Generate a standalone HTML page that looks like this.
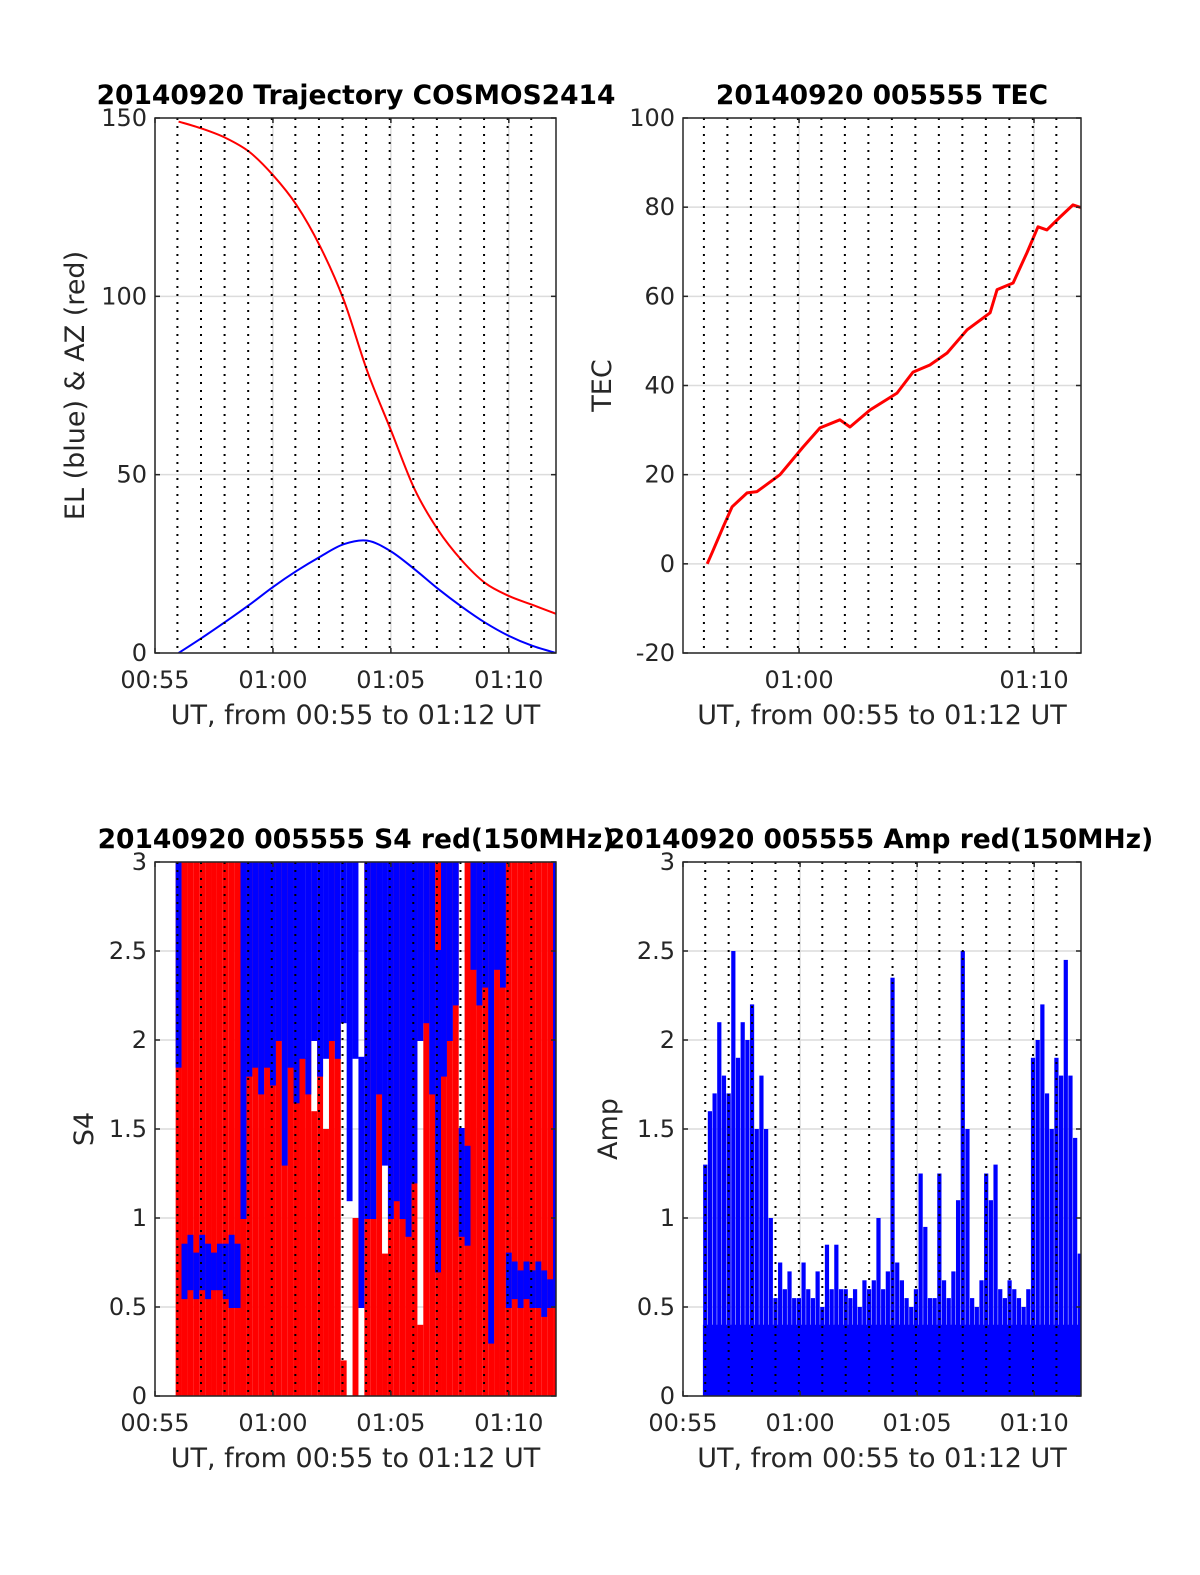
<!DOCTYPE html>
<html><head><meta charset="utf-8"><style>
html,body{margin:0;padding:0;background:#fff;}
svg{display:block;font-family:"DejaVu Sans","Liberation Sans",sans-serif;}
</style></head><body>
<svg id="fig" width="1200" height="1575" viewBox="0 0 1200 1575" xmlns="http://www.w3.org/2000/svg"></svg>
<script>
// ---- data (minutes after 00:55 UT) ----
const xTickLabels = ["00:55","01:00","01:05","01:10"];
const xTickMinutes = [0,5,10,15];
const traj_t = [1,2,3,4,5,6,7,8,9,10,11,12,13,14,15,16,17];
const az_vals = [149,147,144.4,140.5,134,125.6,114,99,79,62.5,46,34.5,26,19.6,16,13.5,11];
const el_vals = [0,4.3,8.8,13.5,18.5,23,27,30.5,31.5,28.5,23.5,18,13,8.5,4.8,2,0];
const tec_t = [1.09,1.30,1.77,2.15,2.79,3.21,4.19,5.17,5.89,6.74,7.17,8.02,9.17,9.85,10.57,11.30,12.15,13.13,13.43,14.11,14.70,15.17,15.55,16.11,16.66,17.0];
const tec_vals = [0,2.5,8.3,12.8,15.9,16.2,20,26.2,30.5,32.3,30.7,34.5,38.3,43,44.6,47.3,52.5,56.3,61.5,63,69.8,75.6,74.9,77.8,80.5,79.9];
const s4_t0 = 1.0, s4_dt = 0.25;
const s4_red = [3,3,3,3,3,3,3,3,3,3,3,3,3,3,3,3,3,3,3,3,
 3,1.9,3,1.6,3,1.5,3,2.2,0.2,0,1.0,0,3,3,3,0.8,3,3,3,3,3,0.4,3,3,3,3,3,3,1.5,3,
 3,3,3,3,3,3,3,3,3,3,3,3,3,3,3];
const s4_blue_lo = [1.85,0.55,0.6,0.55,0.6,0.55,0.6,0.6,0.55,0.5,0.5,1.0,1.8,1.85,1.7,1.85,1.75,2.0,1.3,1.85,1.65,1.9,1.7,2.0,1.8,1.9,2.0,1.9,2.1,1.1,1.9,0.5,1.0,1.0,1.7,1.3,1.0,1.1,1.0,0.9,1.2,2.0,2.1,1.7,0.7,1.8,2.0,2.2,0.9,0.85,2.4,2.2,2.3,0.3,2.4,2.3,0.5,0.55,0.5,0.55,0.5,0.5,0.45,0.5,0.5];
const s4_blue_hi = [3,0.85,0.9,0.8,0.9,0.85,0.8,0.85,0.85,0.9,0.85,3,3,3,3,3,3,3,3,3,3,3,3,3,3,3,3,3,3,3,3,1.9,3,3,3,3,3,3,3,3,3,3,3,3,2.5,3,3,3,1.5,1.4,3,3,3,3,3,3,0.8,0.75,0.7,0.75,0.7,0.75,0.7,0.65,3];
const amp_t0 = 0.95, amp_dt = 0.2;
const amp_vals = [1.3,1.6,1.7,2.1,1.8,1.7,2.5,1.9,2.1,2.0,2.2,1.5,1.8,1.5,1.0,0.55,0.75,0.6,0.7,0.55,0.55,0.75,0.6,0.55,0.7,0.5,0.85,0.6,0.85,0.6,0.6,0.55,0.6,0.5,0.65,0.6,0.65,1.0,0.6,0.7,2.35,0.75,0.65,0.55,0.5,0.6,1.25,0.95,0.55,0.55,1.25,0.65,0.55,0.7,1.1,2.5,1.5,0.55,0.5,0.65,1.25,1.1,1.3,0.6,0.55,0.65,0.6,0.55,0.5,0.6,1.9,2.0,2.2,1.7,1.5,1.9,1.8,2.45,1.8,1.45,0.8];

const NS="http://www.w3.org/2000/svg";
const svg=document.getElementById('fig');
function mk(tag,attrs,parent){const e=document.createElementNS(NS,tag);for(const k in attrs)e.setAttribute(k,attrs[k]);(parent||svg).appendChild(e);return e;}
function txt(s,attrs,parent){const e=mk('text',attrs,parent);e.textContent=s;return e;}

function panel(o){
  const g=mk('g',{});
  
  
  const X=t=>o.x0+(t-o.t0)/(o.t1-o.t0)*(o.x1-o.x0);
  const Y=v=>o.y1-(v-o.v0)/(o.v1-o.v0)*(o.y1-o.y0);
  o.yticks.forEach(v=>{const l=mk('line',{x1:o.x0,x2:o.x1,y1:Y(v),y2:Y(v),stroke:'#dcdcdc','stroke-width':1.5},g);
    });
  o.xticks.forEach(t=>{const l=mk('line',{x1:X(t),x2:X(t),y1:o.y0,y2:o.y1,stroke:'#dcdcdc','stroke-width':1.5},g);
    });
  const clipId='c'+o.name;
  const cp=mk('clipPath',{id:clipId},g);mk('rect',{x:o.x0,y:o.y0,width:o.x1-o.x0,height:o.y1-o.y0},cp);
  const dg=mk('g',{'clip-path':'url(#'+clipId+')'},g);
  o.draw(dg,X,Y);
  for(let k=0;k<16;k++){const t=0.95+k;const l=mk('line',{x1:X(t),x2:X(t),y1:o.y0,y2:o.y1,stroke:'#000','stroke-width':2,'stroke-dasharray':'2,6'},g);
    }
  const b=mk('rect',{x:o.x0,y:o.y0,width:o.x1-o.x0,height:o.y1-o.y0,fill:'none',stroke:'#262626','stroke-width':1.5},g);
  
  o.yticks.forEach((v,i)=>{mk('line',{x1:o.x0,x2:o.x0+5,y1:Y(v),y2:Y(v),stroke:'#262626','stroke-width':1.5},g);
    mk('line',{x1:o.x1,x2:o.x1-5,y1:Y(v),y2:Y(v),stroke:'#262626','stroke-width':1.5},g);
    const tl=txt(o.ylabels[i],{x:o.x0-8,y:Y(v)+8,'text-anchor':'end','font-size':24,fill:'#262626'},g);
    });
  o.xticks.forEach((t,i)=>{mk('line',{x1:X(t),x2:X(t),y1:o.y1,y2:o.y1-5,stroke:'#262626','stroke-width':1.5},g);
    mk('line',{x1:X(t),x2:X(t),y1:o.y0,y2:o.y0+5,stroke:'#262626','stroke-width':1.5},g);
    const tl=txt(o.xlabels[i],{x:X(t),y:o.y1+35,'text-anchor':'middle','font-size':24,fill:'#262626'},g);
    });
  const cx=(o.x0+o.x1)/2;
  const ti=txt(o.title,{x:o.tx||cx,y:o.y0-14,'text-anchor':'middle','font-size':26.5,'font-weight':'bold',fill:'#000'},g);
  
  const xl=txt('UT, from 00:55 to 01:12 UT',{x:cx,y:o.y1+71,'text-anchor':'middle','font-size':27,fill:'#262626'},g);
  
  const cy=(o.y0+o.y1)/2;
  const yl=txt(o.ylabel,{x:o.ylx,y:cy,'text-anchor':'middle','font-size':27,fill:'#262626',transform:'rotate(-90 '+o.ylx+' '+cy+')'},g);
  
}
function line(g,xs,ys,X,Y,color,name){
  const d=xs.map((t,i)=>(i?'L':'M')+X(t).toFixed(1)+','+Y(ys[i]).toFixed(1)).join('');
  const p=mk('path',{d:d,fill:'none',stroke:color,'stroke-width':3,'stroke-linejoin':'round'},g);
  
}
function smooth(g,xs,ys,X,Y,color,name){
  const P=xs.map((t,i)=>[X(t),Y(ys[i])]);
  let d='M'+P[0][0]+','+P[0][1];
  for(let i=0;i<P.length-1;i++){const p0=P[Math.max(i-1,0)],p1=P[i],p2=P[i+1],p3=P[Math.min(i+2,P.length-1)];
    d+='C'+(p1[0]+(p2[0]-p0[0])/6)+','+(p1[1]+(p2[1]-p0[1])/6)+' '+(p2[0]-(p3[0]-p1[0])/6)+','+(p2[1]-(p3[1]-p1[1])/6)+' '+p2[0]+','+p2[1];}
  const p=mk('path',{d:d,fill:'none',stroke:color,'stroke-width':2},g);
  
}
panel({name:'trajectory-panel',x0:155,x1:556,y0:118,y1:653,t0:0,t1:17,v0:0,v1:150,
  xticks:xTickMinutes,xlabels:xTickLabels,yticks:[0,50,100,150],ylabels:['0','50','100','150'],
  title:'20140920 Trajectory COSMOS2414',tx:356,ylabel:'EL (blue) & AZ (red)',ylx:84,
  draw:(g,X,Y)=>{smooth(g,traj_t,az_vals,X,Y,'#ff0000','az-line');smooth(g,traj_t,el_vals,X,Y,'#0000ff','el-line');}});
panel({name:'tec-panel',x0:683,x1:1081,y0:118,y1:653,t0:0.06,t1:17,v0:-20,v1:100,
  xticks:[5,15],xlabels:['01:00','01:10'],yticks:[-20,0,20,40,60,80,100],ylabels:['-20','0','20','40','60','80','100'],
  title:'20140920 005555 TEC',ylabel:'TEC',ylx:611,
  draw:(g,X,Y)=>{line(g,tec_t,tec_vals,X,Y,'#ff0000','tec-line');}});
panel({name:'s4-panel',x0:155,x1:556,y0:862,y1:1396,t0:0,t1:17,v0:0,v1:3,
  xticks:xTickMinutes,xlabels:xTickLabels,yticks:[0,0.5,1,1.5,2,2.5,3],ylabels:['0','0.5','1','1.5','2','2.5','3'],
  title:'20140920 005555 S4 red(150MHz)',tx:356,ylabel:'S4',ylx:93,
  draw:(g,X,Y)=>{
    const w=X(s4_dt)-X(0);
    s4_red.forEach((v,i)=>{const t=s4_t0+i*s4_dt;const r=mk('rect',{x:X(t)-w/2,y:Y(v),width:w,height:Y(0)-Y(v),fill:'#ff0000'},g);
      });
    s4_blue_lo.forEach((v,i)=>{const t=s4_t0+i*s4_dt;const hi=s4_blue_hi[i];const r=mk('rect',{x:X(t)-w/2,y:Y(hi)-1,width:w,height:Y(v)-Y(hi)+2,fill:'#0000ff'},g);
      });
  }});
panel({name:'amp-panel',x0:683,x1:1081,y0:862,y1:1396,t0:0,t1:17,v0:0,v1:3,
  xticks:xTickMinutes,xlabels:xTickLabels,yticks:[0,0.5,1,1.5,2,2.5,3],ylabels:['0','0.5','1','1.5','2','2.5','3'],
  title:'20140920 005555 Amp red(150MHz)',tx:880,ylabel:'Amp',ylx:617,
  draw:(g,X,Y)=>{
    const w=X(amp_dt)-X(0);
    amp_vals.forEach((v,i)=>{const t=amp_t0+i*amp_dt;
      const base=Math.min(v,0.4);
      const r=mk('rect',{x:X(t)-w/2,y:Y(base),width:w+0.5,height:Y(0)-Y(base),fill:'#0000ff'},g);
      
      const s=mk('rect',{x:X(t)-w*0.45,y:Y(v),width:w*0.9,height:Y(0)-Y(v),fill:'#0000ff'},g);
      });
  }});
</script>
</body></html>
